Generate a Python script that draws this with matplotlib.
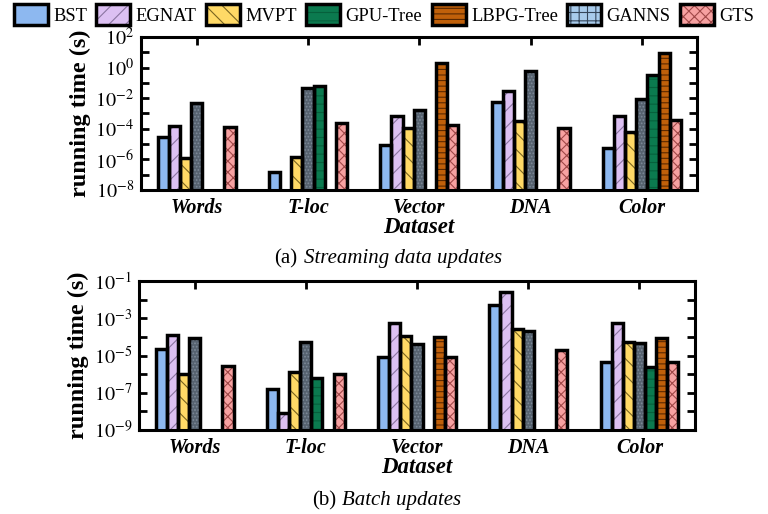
import numpy as np
import matplotlib
matplotlib.use('Agg')
from matplotlib import pyplot as plt
from matplotlib.patches import Patch
from matplotlib.ticker import FixedLocator, FuncFormatter, NullLocator

plt.rcParams['font.family'] = ['Liberation Serif', 'DejaVu Serif']
plt.rcParams['mathtext.fontset'] = 'stix'
plt.rcParams['hatch.linewidth'] = 0.8

datasets = ['Words', 'T-loc', 'Vector', 'DNA', 'Color']
methods = ['BST', 'EGNAT', 'MVPT', 'GANNS', 'GPU-Tree', 'LBPG-Tree', 'GTS']
legend_order = ['BST', 'EGNAT', 'MVPT', 'GPU-Tree', 'LBPG-Tree', 'GANNS', 'GTS']
nan = np.nan

# (a) streaming data updates, running time in seconds
stream_bst = [2.8e-5, 1.6e-7, 8.7e-6, 5.4e-3, 5.3e-6]
stream_egnat = [1.5e-4, nan, 6.9e-4, 2.9e-2, 6.9e-4]
stream_mvpt = [1.2e-6, 1.35e-6, 1.2e-4, 3.2e-4, 6.5e-5]
stream_ganns = [5.1e-3, 4.4e-2, 1.7e-3, 0.6, 8.9e-3]
stream_gpu = [nan, 6.6e-2, nan, nan, 0.33]
stream_lbpg = [nan, nan, 2.1, nan, 9.4]
stream_gts = [1.4e-4, 2.5e-4, 1.8e-4, 1.2e-4, 3.8e-4]

# (b) batch updates, running time in seconds
batch_bst = [2.2e-5, 1.5e-7, 7.9e-6, 5.3e-3, 4.7e-6]
batch_egnat = [1.2e-4, 7.8e-9, 5.4e-4, 2.7e-2, 5.4e-4]
batch_mvpt = [9.8e-7, 1.35e-6, 1.05e-4, 2.6e-4, 5.1e-5]
batch_ganns = [8.3e-5, 5.6e-5, 4.0e-5, 2.2e-4, 4.6e-5]
batch_gpu = [nan, 5.9e-7, nan, nan, 2.5e-6]
batch_lbpg = [nan, nan, 9.5e-5, nan, 8.3e-5]
batch_gts = [2.9e-6, 1.0e-6, 8.7e-6, 2.0e-5, 4.3e-6]

stream = [stream_bst, stream_egnat, stream_mvpt, stream_ganns, stream_gpu, stream_lbpg, stream_gts]
batch = [batch_bst, batch_egnat, batch_mvpt, batch_ganns, batch_gpu, batch_lbpg, batch_gts]

# face colour, hatch pattern, hatch colour
styles = {
    'BST': ('#8db8f0', '', '#8db8f0'),
    'EGNAT': ('#dcc0f2', '//', '#8a74a0'),
    'MVPT': ('#ffd966', '\\\\', '#7a6420'),
    'GANNS': ('#56626f', '.....', '#7d8a99'),
    'GPU-Tree': ('#0b7a4f', '--', '#06603c'),
    'LBPG-Tree': ('#c0600a', '---', '#5a2800'),
    'GTS': ('#f7a1a1', 'xxx', '#a04848'),
}

fig = plt.figure(figsize=(7.68, 5.14), dpi=100)
ax1 = fig.add_axes([0.1836, 0.6304, 0.7246, 0.2977])
ax2 = fig.add_axes([0.181, 0.1634, 0.724, 0.2899])

x = np.arange(len(datasets))
width = 0.1


def draw(ax, values, lo, hi, labelled):
    for i, m in enumerate(methods):
        face, hatch, hcol = styles[m]
        pos = x + (i - 3) * width
        ax.bar(pos, values[i], width, bottom=1e-12, color=face, hatch=hatch,
               edgecolor=hcol, linewidth=0, zorder=2)
        ax.bar(pos, values[i], width, bottom=1e-12, fill=False,
               edgecolor='black', linewidth=2.5, zorder=3)
    ax.set_yscale('log')
    ax.set_ylim(lo, hi)
    ax.set_xlim(-0.5, len(datasets) - 0.5)
    exps = np.arange(np.log10(lo), np.log10(hi) + 1)
    ax.yaxis.set_major_locator(FixedLocator(10.0 ** exps))
    ax.yaxis.set_minor_locator(NullLocator())
    ax.yaxis.set_major_formatter(FuncFormatter(
        lambda v, p: r'$10^{%d}$' % round(np.log10(v)) if round(np.log10(v)) in labelled else ''))
    ax.set_xticks(x)
    ax.set_xticklabels(datasets, fontsize=14.5, fontweight='bold', fontstyle='italic')
    ax.tick_params(axis='both', direction='in', top=True, right=True,
                   length=6, width=2, labelsize=14.5, pad=5)
    ax.tick_params(axis='x', pad=6)
    for s in ax.spines.values():
        s.set_linewidth(2.2)
    ax.set_ylabel('running time (s)', fontsize=17.5, fontweight='bold', labelpad=3)
    ax.set_xlabel('Dataset', fontsize=16.5, fontweight='bold', fontstyle='italic',
                  labelpad=-1)


draw(ax1, stream, 1e-8, 1e2, [2, 0, -2, -4, -6, -8])
draw(ax2, batch, 1e-9, 1e-1, [-1, -3, -5, -7, -9])

fig.text(297 / 768, 1 - 259 / 514, '(a)', ha='right', va='center', fontsize=15)
fig.text(304 / 768, 1 - 259 / 514, 'Streaming data updates', ha='left', va='center',
         fontsize=15, fontstyle='italic')
fig.text(336 / 768, 1 - 501 / 514, '(b)', ha='right', va='center', fontsize=15)
fig.text(342 / 768, 1 - 501 / 514, 'Batch updates', ha='left', va='center',
         fontsize=15, fontstyle='italic')

# legend with coloured hatches and thick black outlines
handles = []
for m in legend_order:
    face, hatch, hcol = styles[m]
    if m == 'GANNS':
        face, hatch, hcol = '#a8cbeb', '++', '#34465a'
    inner = Patch(facecolor=face, hatch=hatch, edgecolor=hcol, linewidth=0)
    outer = Patch(fill=False, edgecolor='black', linewidth=2.5)
    handles.append((inner, outer))
fig.legend(handles, legend_order, loc='upper center', bbox_to_anchor=(0.5, 1.0),
           ncol=7, frameon=False, fontsize=13.3, handlelength=1.84, handleheight=1.4,
           handletextpad=0.3, columnspacing=0.5, borderaxespad=0.1, borderpad=0.1)

fig.savefig('out.png', dpi=100)
